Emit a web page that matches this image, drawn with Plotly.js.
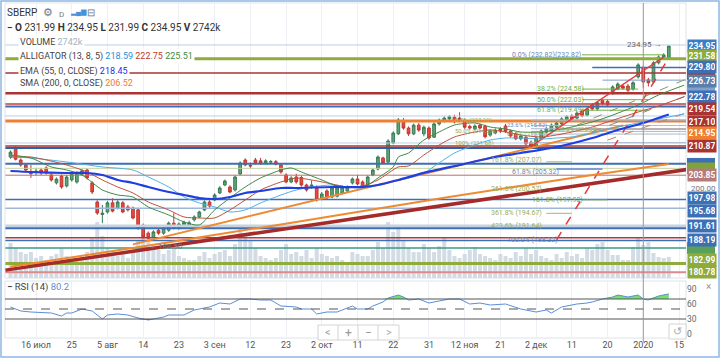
<!DOCTYPE html>
<html>
<head>
<meta charset="utf-8">
<script src="https://cdn.plot.ly/plotly-3.0.1.min.js"></script>
<style>
html,body{margin:0;padding:0;background:#fff;overflow:hidden;}
#chart{width:720px;height:358px;}
</style>
</head>
<body>
<div id="chart"></div>
<script>
// ---------- DATA ----------
const dates = ["2019-07-08","2019-07-09","2019-07-10","2019-07-11","2019-07-12","2019-07-15","2019-07-16","2019-07-17","2019-07-18","2019-07-19","2019-07-22","2019-07-23","2019-07-24","2019-07-25","2019-07-26","2019-07-29","2019-07-30","2019-07-31",
"2019-08-01","2019-08-02","2019-08-05","2019-08-06","2019-08-07","2019-08-08","2019-08-09","2019-08-12","2019-08-13","2019-08-14","2019-08-15","2019-08-16","2019-08-19","2019-08-20","2019-08-21","2019-08-22","2019-08-23","2019-08-26","2019-08-27","2019-08-28","2019-08-29","2019-08-30",
"2019-09-02","2019-09-03","2019-09-04","2019-09-05","2019-09-06","2019-09-09","2019-09-10","2019-09-11","2019-09-12","2019-09-13","2019-09-16","2019-09-17","2019-09-18","2019-09-19","2019-09-20","2019-09-23","2019-09-24","2019-09-25","2019-09-26","2019-09-27","2019-09-30",
"2019-10-01","2019-10-02","2019-10-03","2019-10-04","2019-10-07","2019-10-08","2019-10-09","2019-10-10","2019-10-11","2019-10-14","2019-10-15","2019-10-16","2019-10-17","2019-10-18","2019-10-21","2019-10-22","2019-10-23","2019-10-24","2019-10-25","2019-10-28","2019-10-29","2019-10-30","2019-10-31",
"2019-11-01","2019-11-05","2019-11-06","2019-11-07","2019-11-08","2019-11-11","2019-11-12","2019-11-13","2019-11-14","2019-11-15","2019-11-18","2019-11-19","2019-11-20","2019-11-21","2019-11-22","2019-11-25","2019-11-26","2019-11-27","2019-11-28","2019-11-29",
"2019-12-02","2019-12-03","2019-12-04","2019-12-05","2019-12-06","2019-12-09","2019-12-10","2019-12-11","2019-12-12","2019-12-13","2019-12-16","2019-12-17","2019-12-18","2019-12-19","2019-12-20","2019-12-23","2019-12-24","2019-12-25","2019-12-26","2019-12-27","2019-12-30",
"2020-01-03","2020-01-06","2020-01-08","2020-01-09","2020-01-10","2020-01-13","2020-01-14","2020-01-15","2020-01-16","2020-01-17"];

const tickDates = ["2019-07-16","2019-07-25","2019-08-05","2019-08-14","2019-08-23","2019-09-03","2019-09-12","2019-09-23","2019-10-02","2019-10-11","2019-10-22","2019-10-31","2019-11-12","2019-11-21","2019-12-02","2019-12-11","2019-12-20","2020-01-03","2020-01-15"];
const tickLabels = ["16 июл","25","5 авг","14","23","3 сен","12","23","2 окт","11","22","31","12 ноя","21","2 дек","11","20","2020","15"];

const candleDates = dates.slice(1, 131);
const open = [208.2,210.4,207.5,206.3,204.6,204.6,205.1,205.6,203.9,202.0,
203.65,201.25,202.7,202.2,204.1,205.1,202.0,197.4,194.4,195.0,
197.2,195.95,197.2,196.2,195.95,195.5,191.8,189.9,188.9,190.6,
189.9,190.6,192.3,191.1,191.6,191.8,193.1,193.79,195.48,197.4,
197.88,199.57,201.49,201.01,200.29,204.14,207.51,206.2,207.51,207.3,
206.8,207.0,207.1,206.31,203.9,202.22,203.42,203.3,201.49,201.0,
201.01,198.12,200.05,198.6,198.8,199.57,200.05,201.98,202.94,202.22,
201.5,203.9,205.34,207.99,207.0,211.6,213.8,216.9,215.2,213.8,
215.9,213.8,215.2,213.0,216.2,216.9,217.4,217.8,217.6,217.1,
215.6,215.0,215.9,215.6,213.5,214.0,215.0,215.7,214.5,213.8,
212.6,213.0,211.8,210.9,212.6,214.2,214.5,215.4,216.2,217.1,
218.1,217.6,219.3,218.3,220.8,219.8,221.8,221.6,223.6,224.6,
225.3,225.3,224.6,227.5,229.7,226.8,226.3,230.9,232.3,231.99];
const high = [209.8,210.8,207.9,206.6,206.3,205.6,205.6,206.0,204.3,203.3,
204.0,203.8,204.5,204.8,205.3,205.5,202.4,197.8,196.7,197.6,
198.3,197.8,197.6,196.7,196.3,195.9,192.2,190.3,190.6,191.0,
191.5,192.7,194.7,192.5,192.9,192.9,194.2,195.3,197.8,197.8,
199.5,201.2,202.8,201.4,203.8,207.2,207.9,206.9,208.0,208.0,
207.7,207.5,207.5,206.7,204.3,203.6,204.2,203.7,201.8,202.6,
201.4,199.8,200.5,201.1,201.2,201.4,201.4,203.3,203.9,202.6,
203.8,205.5,208.6,208.3,212.5,214.4,217.6,217.6,215.6,216.3,
216.4,215.8,215.6,216.6,217.5,218.0,218.3,218.4,219.0,217.5,
216.0,216.1,216.3,216.0,214.9,215.1,215.4,216.2,214.8,214.2,
213.7,213.4,212.2,213.2,214.9,215.4,216.3,216.8,217.8,218.3,
218.5,219.2,219.7,220.2,221.2,221.7,222.2,222.0,225.5,226.2,
225.7,225.8,226.5,230.8,230.2,227.3,231.3,232.7,233.2,234.95];
const low = [207.8,207.4,205.9,204.6,203.2,203.8,203.9,204.0,202.3,201.6,
200.6,200.9,202.3,201.8,203.8,202.8,199.3,194.3,192.3,194.6,
194.9,195.6,194.7,195.1,193.2,190.7,188.6,188.5,188.6,189.5,
189.5,190.2,190.8,190.7,191.2,191.4,192.7,193.5,195.2,196.0,
197.6,199.3,201.2,199.5,199.9,203.9,206.0,205.6,206.4,206.3,
206.5,206.6,206.2,204.2,201.9,201.9,201.8,201.1,199.9,200.6,
197.5,197.8,198.0,198.3,198.5,199.2,199.7,201.6,201.4,200.7,
201.2,203.6,205.0,206.5,206.6,211.3,213.5,214.8,213.3,213.5,
214.3,213.2,212.4,212.8,215.8,216.5,217.0,216.3,216.9,215.0,
214.8,214.6,214.9,212.7,213.1,213.7,214.0,214.0,212.9,212.3,
212.2,211.0,210.5,210.6,212.3,213.9,214.1,215.0,215.9,216.8,
217.0,217.3,217.8,218.0,219.4,219.4,220.7,220.4,223.2,224.3,
224.4,223.9,224.2,227.1,224.9,225.2,225.9,230.5,231.9,231.99];
const close = [209.4,207.7,206.3,205.1,204.2,204.8,204.4,204.4,202.7,202.9,
201.0,203.4,204.1,204.4,204.9,203.2,199.8,194.75,194.7,197.2,
195.2,197.4,195.0,195.5,193.55,191.1,188.97,188.7,190.2,189.9,
191.1,192.3,191.1,192.1,192.5,192.4,193.8,194.99,197.4,196.44,
199.09,200.77,202.46,199.8,203.42,206.79,206.31,206.07,206.79,206.8,
207.3,207.1,206.5,204.62,202.22,203.18,202.22,201.49,200.29,201.5,
197.88,199.33,198.36,200.77,200.8,201.01,201.01,202.94,201.73,201.01,
203.42,205.1,208.23,206.79,212.08,214.01,217.14,215.2,213.8,215.9,
214.7,215.4,212.8,216.2,217.1,217.6,217.9,216.7,217.2,215.4,
215.2,215.7,215.2,213.1,214.5,214.7,214.5,214.4,213.3,212.6,
213.3,211.4,210.9,212.8,214.5,215.0,215.9,216.4,217.4,217.9,
217.4,218.8,218.1,219.8,219.8,221.3,221.1,220.8,225.1,225.8,
224.8,224.3,226.1,230.4,226.3,226.1,230.9,232.3,232.8,234.95];
// volume, thousands of shares
const volume = [4550,3900,3380,3120,3380,2600,2860,2340,2860,3120,
3900,2860,2600,2600,2340,3380,5200,7280,5460,3900,
3380,2860,3120,2600,3900,4940,5850,5200,4160,3640,
3120,3640,3900,2860,2600,2340,2340,2860,3380,2600,
3120,3380,3640,2860,4420,6500,5850,4940,3900,2860,
2600,2340,2600,3640,4420,3120,3380,2860,3640,2600,
3900,3120,2860,2600,2860,2340,2080,3380,3120,2860,
2860,3640,4680,3900,7280,5980,6630,4940,3900,3380,
3380,4420,3900,3380,4160,5330,3640,2860,2600,3120,
3640,4030,3120,2860,2600,2340,3120,2860,2600,3380,
2860,3900,3120,3640,2860,2600,2340,3120,2600,3380,
2860,3120,2600,3900,3640,4420,4680,3640,2990,2990,
2340,2340,4030,5200,4290,4680,3250,2730,2600,2742];

// indicator lines: [day index in dates, value]
const emaK   = [1,5,12,16,19,22,25,28,32,35,38,41,44,47,50,54,57,64,70,73,77,82,89,95,101,108,115,120,125,130];
const emaVal = [204.86,204.62,204.38,204.38,203.90,202.70,201.98,201.01,199.81,199.09,198.36,198.12,198.60,199.57,200.05,200.77,200.77,201.01,201.01,201.49,202.70,204.4,206.31,207.99,209.19,210.64,212.80,214.73,216.42,218.45];
const smaK   = [1,29,57,86,111,130];
const smaVal = [181.8,187.1,192.6,198.4,203.2,206.52];
const jawK   = [1,5,12,19,25,28,32,35,38,41,44,47,50,54,57,60,64,67,70,73,77,79,82,85,88,92,95,98,101,105,108,111,115,118,124,128,133];
const jawVal = [208.23,207.99,207.03,205.83,205.10,203.42,201.01,198.60,197.16,196.20,194.99,195.48,197.16,199.09,200.29,201.01,201.49,201.01,200.77,201.49,202.70,203.18,204.38,206.79,209.19,211.12,212.32,212.80,212.80,212.56,212.80,213.05,214.01,214.97,216.42,217.38,218.59];
const teethK   = [1,5,12,16,19,22,25,28,32,35,38,41,44,47,50,54,57,60,64,67,70,73,77,79,82,85,88,92,95,98,101,105,108,111,115,118,124,128,133];
const teethVal = [208.23,208.23,206.31,204.62,202.70,201.01,199.57,197.40,195.48,193.79,193.55,193.55,195.48,197.88,200.29,202.22,203.18,202.70,201.73,201.01,201.25,202.70,205.83,206.07,208.71,211.12,213.05,214.25,214.73,214.25,213.53,213.05,213.53,214.25,215.45,216.66,219.06,220.51,222.75];
const lipsK   = [1,5,9,12,15,19,22,25,28,32,35,38,41,44,47,50,54,56,58,62,65,68,71,73,76,77,79,82,85,88,92,95,98,101,105,108,111,115,118,124,128,133];
const lipsVal = [208.71,207.99,205.83,205.10,203.90,200.29,199.09,198.60,196.20,194.27,192.59,191.87,195.48,198.36,201.01,203.18,205.10,205.59,204.62,202.70,201.25,201.01,201.49,203.18,205.83,208.23,209.19,212.32,214.25,215.93,216.42,215.45,214.97,214.25,214.25,214.73,215.45,216.66,217.86,220.75,223.16,225.51];
const rsiK   = [1,3,5,9,11,12,13,15,17,19,20,22,24,26,28,29,31,32,35,37,40,42,44,46,48,50,52,54,57,58,60,61,63,65,67,68,69,71,72,74,75,77,78,79,81,83,85,87,89,91,93,95,98,101,103,104,106,107,109,112,114,115,117,119,120,122,124,125,126,128,130];
const rsiVal = [54,46,44,42,36,42,42,50,46,30,38,40,38,32,28,30,34,38,38,48,54,62,60,70,70,68,68,56,54,50,50,40,44,44,52,56,50,50,56,64,72,78,74,68,70,62,66,70,70,60,62,58,60,50,46,44,48,42,54,60,62,64,70,74,78,74,78,70,68,76,80.2];

// horizontal levels across the whole chart
const levelPrice = [235.2,231.9,228.45,223.6,221.0,220.4,218.1,216.9,211.6,210.87,210.4,206.6,205.5,203.85,198.0,195.9,191.6,191.1,188.8,188.1,186.3,182.6,180.5];
// partial horizontal segments (levels and fibonacci lines)
const segPrice = [229.80,226.73,214.95,217.10,215.82,215.03,214.39,213.75,211.68,232.82,224.58,222.03,219.49,207.07,205.32,200.57,197.92,194.67];
const segFrom  = ["2019-12-17","2019-12-19","2019-12-09","2019-11-29","2019-11-29","2019-11-29","2019-11-29","2019-11-29","2019-11-29","2019-12-13","2019-12-13","2019-12-13","2019-12-13","2019-12-04","2019-12-06","2019-12-04","2019-12-13","2019-12-04"];
const segTo    = ["2020-01-17","2020-01-17","2020-01-17","2020-01-17","2020-01-17","2020-01-17","2020-01-17","2020-01-17","2020-01-17","2020-01-10","2019-12-30","2020-01-06","2020-01-06","2019-12-11","2019-12-19","2019-12-09","2019-12-20","2019-12-11"];
// trend lines
const trendFrom  = ["2019-07-08","2019-08-12","2019-11-29","2019-12-06","2019-12-12","2019-12-17","2019-12-20"];
const trendFromP = [181.0,187.2,210.8,188.3,215.9,214.3,212.3];
const trendTo    = ["2020-01-17","2019-12-25","2020-01-10","2020-01-13","2020-01-17","2020-01-17","2020-01-17"];
const trendToP   = [205.3,215.8,232.3,232.1,227.3,223.2,219.1];
// fibonacci labels
const fibText  = ["0.0% (232.82)(232.82)","38.2% (224.58)","50.0% (222.03)","61.8% (219.49)","0.0% (217.10)","23.6% (215.82)","38.2% (215.03)","50.0% (214.39)","61.8% (213.75)","100% (211.68)","161.8% (207.07)","61.8% (205.32)","261.8% (200.57)","161.8% (197.92)","361.8% (194.67)","423.6% (191.64)","100.0% (188.32)"];
const fibPrice = [232.82,224.58,222.03,219.49,217.10,215.82,215.03,214.39,213.75,211.68,207.07,205.32,200.57,197.92,194.67,191.64,188.32];
const fibDate  = ["2019-11-25","2019-12-02","2019-12-02","2019-12-02","2019-11-08","2019-11-22","2019-12-06","2019-11-08","2019-11-22","2019-11-08","2019-11-19","2019-11-25","2019-11-19","2019-11-29","2019-11-19","2019-11-19","2019-11-22"];
// right-hand price scale markers
const tagPrice = [234.95,231.58,229.80,226.73,222.78,219.54,217.10,214.95,210.87,203.85,197.98,195.68,191.61,188.19,182.99,180.78];
const tagText  = ["234.95","231.58","229.80","226.73","222.78","219.54","217.10","214.95","210.87","203.85","197.98","195.68","191.61","188.19","182.99","180.78"];
const hiddenTagPrice = [228.20,225.12,206.60,205.50,186.30];

// ---------- STYLES ----------
const levelColor = ['#b9cfe8','#8fab3a','#a93434','#a93434','#bf4040','#3d6fb5','#b9cfe8','#ee8030','#b9cfe8','#a93434','#2f5fa8','#3d6fb5','#c9d29e','#b57070','#3d6fb5','#9db7d8','#c6d2e0','#3d6fb5','#b03a3a','#3d6fb5','#3a9a8a','#8fab3a','#dc8a8a'];
const levelWidth = [1,3,1.5,2.5,1.5,2,1,3,1,1.5,2,2,1,1,1.5,1.5,3,2,1.5,1.5,1.5,3,2];
const segColor = ['#3d6fb5','#7d9cc5','#ee8030','#a9b9cf','#a9b9cf','#a9b9cf','#a9b9cf','#a9b9cf','#a9b9cf','#74b043','#74b043','#74b043','#74b043','#a5b86a','#7f9fcf','#a5b86a','#74b043','#a5b86a'];
const segWidth = [1.5,1,1.5,1,1,1,1,1,1,1,1,1,1,1,2,1,1,1];
const trendColor = ['#a52a2a','#f08a30','#e53935','#e53935','#8a9a5b','#888888','#c08060'];
const trendWidth = [3.5,2,1.5,1.5,1,1,1];
const trendDash  = ['solid','solid','solid','dash','dash','dash','dash'];
const fibColor = ['#6b86b8','#6aae45','#6aae45','#6aae45','#9cba5a','#6b86b8','#93ad55','#93ad55','#93ad55','#93ad55','#9aae58','#6b86b8','#9aae58','#6aae45','#9aae58','#9aae58','#6b86b8'];
const fibSize  = [7,7,7,7,6,6,6,6,6,6,7,7,7,7,7,7,7];
const fibShift = [0,0,0,0,0,0,0,0,0,0,2,-2.5,0,0,0,0,0];
const tagColor = ['#3b7dc4','#8fab3a','#3d6fb5','#5b7fab','#3d6fb5','#a93232','#a93232','#ee8030','#a93232','#b57a7a','#3d6fb5','#3d6fb5','#3d6fb5','#3d6fb5','#8fab3a','#8fab3a'];
const tagShift = [0,3.5,0,-1,0,1.5,-1.5,-4,0,0,1.5,-1.5,0,0,1.5,-1];
const hiddenTagColor = ['#b03030','#7fa3cc','#3d6fb5','#7fa33a','#5aa05a'];

// ---------- BUILD ----------
const PX = x => x/720, PY = y => 1 - y/358;
const first = dates[0], last = dates[dates.length-1];
const T = [];
const S = (o) => Object.assign({type:'scatter', mode:'lines', xaxis:'x', yaxis:'y3', hoverinfo:'skip'}, o);

T.push({type:'bar', x:candleDates, y:volume, xaxis:'x', yaxis:'y', marker:{color:'#d3dbe4', line:{width:0}}, hoverinfo:'skip'});
levelPrice.forEach((p,i)=>T.push(S({x:[first,last], y:[p,p], line:{color:levelColor[i], width:levelWidth[i]}})));
segPrice.forEach((p,i)=>T.push(S({x:[segFrom[i],segTo[i]], y:[p,p], line:{color:segColor[i], width:segWidth[i]}})));
trendFrom.forEach((d,i)=>T.push(S({x:[d,trendTo[i]], y:[trendFromP[i],trendToP[i]], line:{color:trendColor[i], width:trendWidth[i], dash:trendDash[i]}})));
T.push(S({x:smaK.map(k=>dates[k]), y:smaVal, line:{color:'#f08a30', width:2}}));
T.push(S({x:jawK.map(k=>dates[k]), y:jawVal, line:{color:'#4fb0e6', width:1, shape:'spline', smoothing:0.7}}));
T.push(S({x:teethK.map(k=>dates[k]), y:teethVal, line:{color:'#c0503c', width:1, shape:'spline', smoothing:0.7}}));
T.push(S({x:lipsK.map(k=>dates[k]), y:lipsVal, line:{color:'#3d8a45', width:1, shape:'spline', smoothing:0.7}}));
T.push(S({x:emaK.map(k=>dates[k]), y:emaVal, line:{color:'#1f3fe0', width:2.2, shape:'spline', smoothing:0.7}}));
T.push({type:'candlestick', x:candleDates, open:open, high:high, low:low, close:close, xaxis:'x', yaxis:'y3',
  increasing:{line:{color:'#3b7a55', width:1}, fillcolor:'#5ba874'},
  decreasing:{line:{color:'#c2372f', width:1}, fillcolor:'#e8483f'},
  whiskerwidth:0, hoverinfo:'skip'});

// RSI
const rsiX = rsiK.map(k=>dates[k]);
const R = (o) => Object.assign({type:'scatter', mode:'lines', xaxis:'x2', yaxis:'y2', hoverinfo:'skip'}, o);
T.push(R({x:rsiX, y:rsiX.map(()=>70), line:{width:0, color:'rgba(0,0,0,0)'}}));
T.push(R({x:rsiX, y:rsiVal.map(v=>Math.max(v,70)), line:{width:0, color:'rgba(0,0,0,0)'}, fill:'tonexty', fillcolor:'#74e074'}));
T.push(R({x:rsiX, y:rsiX.map(()=>30), line:{width:0, color:'rgba(0,0,0,0)'}}));
T.push(R({x:rsiX, y:rsiVal.map(v=>Math.min(v,30)), line:{width:0, color:'rgba(0,0,0,0)'}, fill:'tonexty', fillcolor:'#b0205a'}));
T.push(R({x:rsiX, y:rsiVal, line:{color:'#5b8ed6', width:1}}));

// shapes
const shapes = [];
const rect = (x0,y0,x1,y1,col,w,fill,layer) => shapes.push({type:'rect', xref:'paper', yref:'paper', x0:PX(x0), x1:PX(x1), y0:PY(y1), y1:PY(y0), line:{color:col, width:w}, fillcolor:fill||'rgba(0,0,0,0)', layer:layer||'above'});
rect(5,3,686,278,'#dde3ea',1,null,'below');
rect(5,281,686,338,'#dde3ea',1,null,'below');
[70,50,30].forEach(v=>shapes.push({type:'line', xref:'paper', yref:'y2', x0:PX(5), x1:PX(686), y0:v, y1:v, line:{color:'#555', width:1, dash: v===50?'dash':'solid'}}));
const xh = dates.indexOf('2020-01-03');
shapes.push({type:'line', xref:'x2', yref:'paper', x0:xh, x1:xh, y0:PY(342), y1:PY(3), line:{color:'#9a9a9a', width:1}});
rect(318,325,399,340,'#d4d4d4',1,'#ffffff');
[338,358,378].forEach(x=>shapes.push({type:'line', xref:'paper', yref:'paper', x0:PX(x), x1:PX(x), y0:PY(340), y1:PY(325), line:{color:'#d4d4d4', width:1}}));
rect(669,324,686,339,'#d4d4d4',1,'#ffffff');
hiddenTagPrice.forEach((p,i)=>shapes.push({type:'rect', xref:'paper', yref:'y3', x0:PX(687), x1:PX(715), y0:p-1.4, y1:p+1.4, line:{width:0}, fillcolor:hiddenTagColor[i], layer:'above'}));
rect(1,1,719,357,'#8fb6e3',1.5);

// annotations
const A = [];
const txt = (x,y,text,o) => A.push(Object.assign({xref:'paper', yref:'paper', x:PX(x), y:PY(y), text:text, showarrow:false, xanchor:'left', yanchor:'middle', font:{size:9, color:'#333'}}, o||{}));
const nb = '\u00a0';
txt(5,13,'SBERP',{font:{size:10,color:'#333'}});
txt(41,13,'⚙',{font:{size:11,color:'#777'}});
txt(57,14,'D',{font:{size:8,color:'#777'}});
txt(68,13,'▂▄▆',{font:{size:7,color:'#4a90d9'}});
txt(85,13,'⊟',{font:{size:10,color:'#777'}});
txt(5,27,'<b>−</b>'+nb+'<b>O</b> 231.99'+nb+'<b>H</b> 234.95'+nb+'<b>L</b> 231.99'+nb+'<b>C</b> 234.95'+nb+'<b>V</b> 2742k',{font:{size:10,color:'#333'}});
const lg = {bgcolor:'#ffffff', borderpad:1, font:{size:9,color:'#444'}};
txt(18,42,'VOLUME <span style="color:#9fb3c8">2742k</span>',lg);
txt(18,56,'ALLIGATOR (13, 8, 5) <span style="color:#1c8fd8">218.59</span> <span style="color:#c0392b">222.75</span> <span style="color:#3c8c3c">225.51</span>',lg);
txt(18,71,'EMA (55, 0, CLOSE) <span style="color:#2828f0">218.45</span>',lg);
txt(18,84,'SMA (200, 0, CLOSE) <span style="color:#ef7a33">206.52</span>',lg);
txt(5,287,'<b>−</b> RSI (14) <span style="color:#5b8ed6">80.2</span>',{font:{size:9.5,color:'#444'}});
txt(328,332.5,'<',{xanchor:'center',font:{size:11,color:'#aaa'}});
txt(348,332.5,'+',{xanchor:'center',font:{size:12,color:'#999'}});
txt(368,332.5,'−',{xanchor:'center',font:{size:12,color:'#999'}});
txt(388.5,332.5,'>',{xanchor:'center',font:{size:11,color:'#aaa'}});
txt(677.5,331.5,'↺',{xanchor:'center',font:{size:11,color:'#aaa'}});
txt(708,286,'×',{xanchor:'center',font:{size:10,color:'#999'}});
// plain scale value
A.push({xref:'paper', yref:'y3', x:PX(689), y:200.0, yshift:3, text:'200.00', showarrow:false, xanchor:'left', yanchor:'middle', font:{size:8,color:'#777'}});
tagPrice.forEach((p,i)=>A.push({xref:'paper', yref:'y3', x:PX(687), y:p, yshift:tagShift[i], text:'<b>'+tagText[i]+'</b>', showarrow:false, xanchor:'left', yanchor:'middle', bgcolor:tagColor[i], font:{size:8.5,color:'#ffffff'}, width:26, height:10, borderpad:1, align:'center'}));
fibText.forEach((t,i)=>A.push({xref:'x', yref:'y3', x:fibDate[i], y:fibPrice[i], yshift:fibShift[i], text:t, showarrow:false, xanchor:'left', yanchor:'middle', borderpad:0, font:{size:fibSize[i],color:fibColor[i]}}));
A.push({xref:'x', yref:'y3', x:'2020-01-10', y:235.2, text:'234.95 →', showarrow:false, xanchor:'right', yanchor:'middle', font:{size:8,color:'#666'}});
A.push({xref:'x', yref:'y3', x:'2019-08-15', y:186.6, text:'←188.50', showarrow:false, xanchor:'left', yanchor:'middle', font:{size:8,color:'#777'}});

const xCommon = {type:'category', categoryorder:'array', categoryarray:dates, range:[-0.08,133.37], tickmode:'array', tickvals:tickDates, showgrid:true, gridcolor:'#edf0f4', gridwidth:1, zeroline:false, showline:false, ticks:'', fixedrange:true, rangeslider:{visible:false}};
const layout = {
  width:720, height:358, margin:{l:0,r:0,t:0,b:0}, paper_bgcolor:'#ffffff', plot_bgcolor:'#ffffff',
  showlegend:false, bargap:0.22, boxgap:0.25, hovermode:false,
  font:{family:'Roboto, "Open Sans", sans-serif', size:9, color:'#444'},
  xaxis:Object.assign({}, xCommon, {domain:[PX(5),PX(686)], anchor:'y', showticklabels:false}),
  yaxis:{domain:[1-278/358, 1-3/358], range:[0,35750], visible:false, fixedrange:true},
  yaxis3:{overlaying:'y', anchor:'x', range:[179.1,245.3], visible:false, fixedrange:true},
  xaxis2:Object.assign({}, xCommon, {domain:[PX(5),PX(686)], anchor:'y2', ticktext:tickLabels, tickfont:{size:9,color:'#555'}}),
  yaxis2:{domain:[20/358, 76/358], anchor:'x2', side:'right', range:[-8,104], tickmode:'array', tickvals:[0,30,60,90], tickfont:{size:8.5,color:'#666'}, showgrid:false, zeroline:false, ticks:'', fixedrange:true},
  shapes:shapes, annotations:A
};
Plotly.newPlot('chart', T, layout, {staticPlot:true, displayModeBar:false});
</script>
</body>
</html>
